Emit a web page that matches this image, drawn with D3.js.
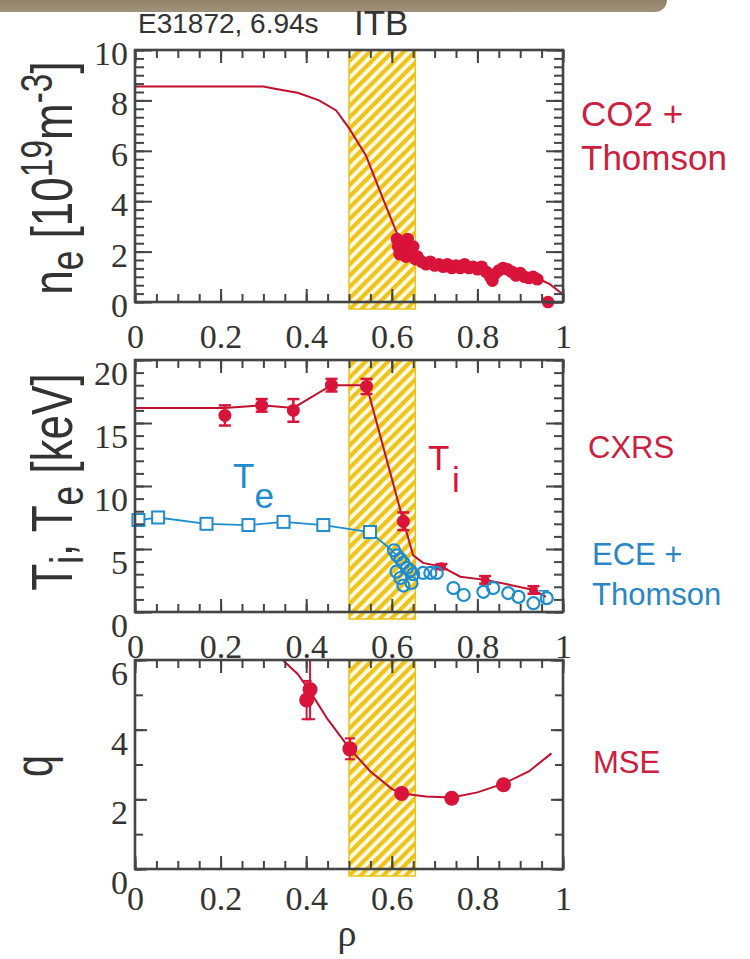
<!DOCTYPE html>
<html><head><meta charset="utf-8">
<script src="https://cdn.jsdelivr.net/npm/d3@7"></script>
<style>body{margin:0;background:#fff} svg{display:block}</style>
</head><body>
<script>
// ---------- data ----------
const xTicks = [0, 0.2, 0.4, 0.6, 0.8, 1];
const xTickLabels = ["0", "0.2", "0.4", "0.6", "0.8", "1"];
const neTicks = [0, 2, 4, 6, 8, 10];
const tTicks = [0, 5, 10, 15, 20];
const qTicks = [0, 2, 4, 6];
const itbBand = [0.50, 0.655];

// n_e profile (CO2 + Thomson)
const neLineRho = [0, 0.30, 0.33, 0.38, 0.43, 0.47, 0.50, 0.54, 0.57, 0.61, 0.63, 0.66, 0.70, 0.75, 0.80, 0.84, 0.87, 0.90, 0.94, 0.97, 1.0];
const neLineVal = [8.55, 8.55, 8.45, 8.3, 8.0, 7.6, 6.9, 5.8, 4.5, 2.8, 2.2, 1.8, 1.55, 1.45, 1.4, 1.1, 1.3, 1.1, 0.95, 0.7, 0.3];
const neDotRho = [0.612, 0.615, 0.618, 0.62, 0.625, 0.63, 0.633, 0.637, 0.64, 0.645, 0.65, 0.655, 0.66, 0.67, 0.68, 0.69, 0.70, 0.71, 0.72, 0.73, 0.74, 0.75, 0.76, 0.77, 0.78, 0.79, 0.80, 0.81, 0.82, 0.83, 0.835, 0.84, 0.85, 0.86, 0.87, 0.88, 0.89, 0.90, 0.91, 0.92, 0.93, 0.94, 0.965];
const neDotVal = [2.5, 2.2, 1.9, 2.4, 2.0, 2.3, 1.8, 2.5, 2.1, 1.9, 2.2, 1.7, 1.8, 1.6, 1.5, 1.6, 1.45, 1.5, 1.4, 1.5, 1.35, 1.45, 1.35, 1.5, 1.35, 1.4, 1.3, 1.4, 1.2, 1.0, 0.85, 1.1, 1.25, 1.35, 1.3, 1.2, 1.05, 1.15, 1.0, 0.95, 1.0, 0.9, 0.0];

// T_i (CXRS)
const tiRho = [0.21, 0.296, 0.37, 0.459, 0.541, 0.627, 0.716, 0.818, 0.931];
const tiVal = [15.6, 16.4, 16.0, 18.0, 17.9, 7.2, 3.6, 2.55, 1.75];
const tiErr = [0.8, 0.5, 0.9, 0.5, 0.6, 0.7, 0.2, 0.3, 0.3];
const tiLineRho = [0, 0.21, 0.296, 0.37, 0.459, 0.541, 0.627, 0.65, 0.673, 0.716, 0.76, 0.818, 0.87, 0.931, 0.96];
const tiLineVal = [16.2, 16.2, 16.4, 16.2, 18.0, 18.0, 7.2, 4.5, 3.9, 3.6, 2.8, 2.55, 2.2, 1.75, 1.2];

// T_e (ECE squares, Thomson circles)
const teSqRho = [0.008, 0.054, 0.167, 0.265, 0.347, 0.44, 0.549];
const teSqVal = [7.3, 7.5, 7.0, 6.9, 7.15, 6.9, 6.35];
const teLineRho = [0.008, 0.054, 0.167, 0.265, 0.347, 0.44, 0.549, 0.60, 0.613];
const teLineVal = [7.3, 7.5, 7.0, 6.9, 7.15, 6.9, 6.35, 4.9, 4.4];
const teCircRho = [0.605, 0.612, 0.62, 0.627, 0.635, 0.643, 0.65, 0.611, 0.62, 0.627, 0.646, 0.673, 0.69, 0.705, 0.744, 0.768, 0.814, 0.837, 0.872, 0.896, 0.931, 0.962];
const teCircVal = [4.9, 4.5, 4.2, 3.9, 3.5, 3.3, 3.0, 3.2, 2.7, 2.1, 2.3, 3.1, 3.1, 3.1, 1.9, 1.35, 1.6, 1.9, 1.5, 1.2, 0.7, 1.1];

// q (MSE)
const qRho = [0.409, 0.401, 0.502, 0.623, 0.74, 0.861];
const qVal = [5.15, 4.85, 3.45, 2.17, 2.03, 2.42];
const qErr = [0.85, 0.55, 0.3, 0.1, 0.1, 0.1];
const qLineRho = [0.345, 0.38, 0.409, 0.45, 0.502, 0.55, 0.60, 0.623, 0.68, 0.74, 0.80, 0.861, 0.92, 0.973];
const qLineVal = [6.0, 5.6, 5.1, 4.3, 3.45, 2.8, 2.3, 2.17, 2.08, 2.05, 2.2, 2.45, 2.8, 3.32];

// ---------- drawing ----------
const RED = "#d8143a", RED_LINE = "#c0102e", BLUE = "#1f8ccc";
const AX = "#444";
const svg = d3.select("body").append("svg").attr("width", 750).attr("height", 959)
  .style("font-family", "'Liberation Serif', serif");

const defs = svg.append("defs");
const grad = defs.append("linearGradient").attr("id", "hdr").attr("x1", 0).attr("x2", 0).attr("y1", 0).attr("y2", 1);
grad.append("stop").attr("offset", "0%").attr("stop-color", "#6a5c40");
grad.append("stop").attr("offset", "100%").attr("stop-color", "#a0927a");
const pat = defs.append("pattern").attr("id", "hatch").attr("patternUnits", "userSpaceOnUse")
  .attr("width", 8).attr("height", 8).attr("patternTransform", "rotate(45)");
pat.append("rect").attr("width", 8).attr("height", 8).attr("fill", "#fffbe6");
pat.append("rect").attr("width", 4.2).attr("height", 8).attr("fill", "#eec41c");

// header band
svg.append("rect").attr("x", -30).attr("y", -30).attr("width", 697).attr("height", 42)
  .attr("rx", 12).attr("fill", "url(#hdr)");

svg.append("text").attr("x", 138).attr("y", 33).attr("font-family", "'Liberation Sans', Arial, sans-serif")
  .attr("font-size", 28).attr("fill", "#333").text("E31872, 6.94s");
svg.append("text").attr("x", 354).attr("y", 35).attr("font-family", "'Liberation Sans', Arial, sans-serif")
  .attr("font-size", 35).attr("fill", "#333").text("ITB");

const x = d3.scaleLinear().domain([0, 1]).range([135, 563]);

const panels = [
  { top: 50, bottom: 302, domain: [0, 10], major: neTicks, minorStep: 1 / 3, majLen: 17, minLen: 9, ydy: 3, xPad: 22 },
  { top: 360, bottom: 612, domain: [0, 20], major: tTicks, minorStep: 1, majLen: 17, minLen: 9, ydy: 13, xPad: 22 },
  { top: 660, bottom: 869, domain: [0, 6], major: qTicks, minorStep: 1, majLen: 12, minLen: 8, ydy: 13, xPad: 17 }
];

const xMinor = d3.range(0, 1.0001, 0.05).map(v => +v.toFixed(2));

panels.forEach(p => {
  p.y = d3.scaleLinear().domain(p.domain).range([p.bottom, p.top]);
  svg.append("rect").attr("x", x(itbBand[0])).attr("y", p.top)
    .attr("width", x(itbBand[1]) - x(itbBand[0])).attr("height", p.bottom - p.top + 7)
    .attr("fill", "url(#hatch)").attr("stroke", "#e8c21a").attr("stroke-width", 1.5);
});

function drawAxes(p) {
  const g = svg.append("g");
  const y = p.y;
  const yMinor = d3.range(p.domain[0], p.domain[1] + 1e-6, p.minorStep);
  g.append("g").attr("transform", `translate(${x(0)},0)`).call(d3.axisLeft(y).tickValues(yMinor).tickSize(-p.minLen).tickFormat(""));
  g.append("g").attr("transform", `translate(${x(1)},0)`).call(d3.axisRight(y).tickValues(yMinor).tickSize(-p.minLen).tickFormat(""));
  g.append("g").attr("transform", `translate(0,${p.bottom})`).call(d3.axisBottom(x).tickValues(xMinor).tickSize(-8).tickFormat(""));
  g.append("g").attr("transform", `translate(0,${p.top})`).call(d3.axisTop(x).tickValues(xMinor).tickSize(-8).tickFormat(""));
  const yl = g.append("g").attr("transform", `translate(${x(0)},0)`)
    .call(d3.axisLeft(y).tickValues(p.major).tickSize(-p.majLen).tickPadding(7).tickFormat(d3.format("d")));
  yl.selectAll("text").attr("dy", null).attr("dominant-baseline", "central")
    .attr("transform", `translate(0,${p.ydy})`);
  g.append("g").attr("transform", `translate(${x(1)},0)`).call(d3.axisRight(y).tickValues(p.major).tickSize(-p.majLen).tickFormat(""));
  g.append("g").attr("transform", `translate(0,${p.bottom})`)
    .call(d3.axisBottom(x).tickValues(xTicks).tickSize(-13).tickPadding(p.xPad).tickFormat((d, i) => xTickLabels[i]));
  g.append("g").attr("transform", `translate(0,${p.top})`).call(d3.axisTop(x).tickValues(xTicks).tickSize(-13).tickFormat(""));
  g.selectAll(".domain").remove();
  g.selectAll("line").attr("stroke", AX).attr("stroke-width", 2);
  g.selectAll("text").attr("font-family", "'Liberation Serif', serif").attr("font-size", 34).attr("fill", "#333");
  svg.append("rect").attr("x", x(0)).attr("y", p.top).attr("width", x(1) - x(0)).attr("height", p.bottom - p.top)
    .attr("fill", "none").attr("stroke", AX).attr("stroke-width", 2.6);
}

function line(y) { return d3.line().x(d => x(d[0])).y(d => y(d[1])); }

// ---- Panel 1: n_e ----
const p1 = panels[0];
svg.append("path").datum(d3.zip(neLineRho, neLineVal)).attr("d", line(p1.y))
  .attr("fill", "none").attr("stroke", RED_LINE).attr("stroke-width", 2);
svg.append("g").selectAll("circle").data(d3.zip(neDotRho, neDotVal)).join("circle")
  .attr("cx", d => x(d[0])).attr("cy", d => p1.y(d[1])).attr("r", 6.3).attr("fill", RED);
drawAxes(p1);

// ---- Panel 2: T_i, T_e ----
const p2 = panels[1];
svg.append("path").datum(d3.zip(teLineRho, teLineVal)).attr("d", line(p2.y))
  .attr("fill", "none").attr("stroke", BLUE).attr("stroke-width", 1.8);
svg.append("path").datum(d3.zip(tiLineRho, tiLineVal)).attr("d", line(p2.y))
  .attr("fill", "none").attr("stroke", RED_LINE).attr("stroke-width", 2);
const tiG = svg.append("g");
d3.zip(tiRho, tiVal, tiErr).forEach(d => {
  const cx = x(d[0]), y0 = p2.y(d[1] - d[2]), y1 = p2.y(d[1] + d[2]);
  tiG.append("line").attr("x1", cx).attr("x2", cx).attr("y1", y0).attr("y2", y1).attr("stroke", RED).attr("stroke-width", 2.5);
  tiG.append("line").attr("x1", cx - 6).attr("x2", cx + 6).attr("y1", y0).attr("y2", y0).attr("stroke", RED).attr("stroke-width", 2.5);
  tiG.append("line").attr("x1", cx - 6).attr("x2", cx + 6).attr("y1", y1).attr("y2", y1).attr("stroke", RED).attr("stroke-width", 2.5);
  tiG.append("circle").attr("cx", cx).attr("cy", p2.y(d[1])).attr("r", d[0] > 0.7 ? 4.5 : 6.5).attr("fill", RED);
});
svg.append("g").selectAll("rect").data(d3.zip(teSqRho, teSqVal)).join("rect")
  .attr("x", d => x(d[0]) - 6).attr("y", d => p2.y(d[1]) - 6).attr("width", 12).attr("height", 12)
  .attr("fill", "#fff").attr("stroke", BLUE).attr("stroke-width", 2);
svg.append("g").selectAll("circle").data(d3.zip(teCircRho, teCircVal)).join("circle")
  .attr("cx", d => x(d[0])).attr("cy", d => p2.y(d[1])).attr("r", 6)
  .attr("fill", "none").attr("stroke", BLUE).attr("stroke-width", 2.2);
drawAxes(p2);

const sans = "'Liberation Sans', Arial, sans-serif";
const teLab = svg.append("text").attr("x", 233).attr("y", 488).attr("font-family", sans).attr("font-size", 35).attr("fill", BLUE);
teLab.append("tspan").text("T");
teLab.append("tspan").attr("dx", 4).attr("dy", 20).text("e");
const tiLab = svg.append("text").attr("x", 428).attr("y", 470).attr("font-family", sans).attr("font-size", 35).attr("fill", RED);
tiLab.append("tspan").text("T");
tiLab.append("tspan").attr("dx", 4).attr("dy", 22).text("i");
svg.append("text").attr("x", 538).attr("y", 603).attr("font-family", sans).attr("font-size", 18).attr("fill", BLUE).text("T");

// ---- Panel 3: q ----
const p3 = panels[2];
svg.append("path").datum(d3.zip(qLineRho, qLineVal)).attr("d", line(p3.y))
  .attr("fill", "none").attr("stroke", RED_LINE).attr("stroke-width", 2);
const qG = svg.append("g");
d3.zip(qRho, qVal, qErr).forEach(d => {
  const cx = x(d[0]), y0 = p3.y(d[1] - d[2]), y1 = p3.y(d[1] + d[2]);
  qG.append("line").attr("x1", cx).attr("x2", cx).attr("y1", y0).attr("y2", y1).attr("stroke", RED).attr("stroke-width", 2);
  qG.append("line").attr("x1", cx - 5).attr("x2", cx + 5).attr("y1", y0).attr("y2", y0).attr("stroke", RED).attr("stroke-width", 2);
  qG.append("line").attr("x1", cx - 5).attr("x2", cx + 5).attr("y1", y1).attr("y2", y1).attr("stroke", RED).attr("stroke-width", 2);
  qG.append("circle").attr("cx", cx).attr("cy", p3.y(d[1])).attr("r", 7.5).attr("fill", RED);
});
drawAxes(p3);

const rl = (t, xx, yy, c, fs) => svg.append("text").attr("x", xx).attr("y", yy).attr("font-family", sans)
  .attr("font-size", fs).attr("fill", c).text(t);
rl("CO2 +", 581, 126, "#cc2040", 35);
rl("Thomson", 581, 170, "#cc2040", 35);
rl("CXRS", 588, 458, "#cc2040", 31);
rl("ECE +", 592, 565, "#2a86c4", 31);
rl("Thomson", 592, 605, "#2a86c4", 31);
rl("MSE", 593, 773, "#cc2040", 31);

function ytitle(xx, yy, fs, parts) {
  const t = svg.append("text").attr("transform", `translate(${xx},${yy}) rotate(-90) scale(0.76,1)`)
    .attr("text-anchor", "middle").attr("font-family", sans).attr("font-size", fs).attr("fill", "#333");
  parts.forEach(p => {
    const s = t.append("tspan").text(p.t);
    if (p.dy) s.attr("dy", p.dy);
    if (p.fs) s.attr("font-size", p.fs);
  });
}
ytitle(72, 178, 58, [
  { t: "n" }, { t: "e", dy: 11, fs: 46 }, { t: " [10", dy: -11 }, { t: "19", dy: -20, fs: 44 },
  { t: "m", dy: 20 }, { t: "-3", dy: -20, fs: 44 }, { t: "]", dy: 20 }
]);
ytitle(72, 482, 58, [
  { t: "T" }, { t: "i", dy: 11, fs: 46 }, { t: ", T", dy: -11 }, { t: "e", dy: 11, fs: 46 }, { t: " [keV]", dy: -11 }
]);
ytitle(52, 766, 52, [{ t: "q" }]);

svg.append("text").attr("x", 347).attr("y", 946).attr("text-anchor", "middle")
  .attr("font-family", "'Liberation Serif', serif").attr("font-size", 38).attr("fill", "#333").text("ρ");
</script>
</body></html>
